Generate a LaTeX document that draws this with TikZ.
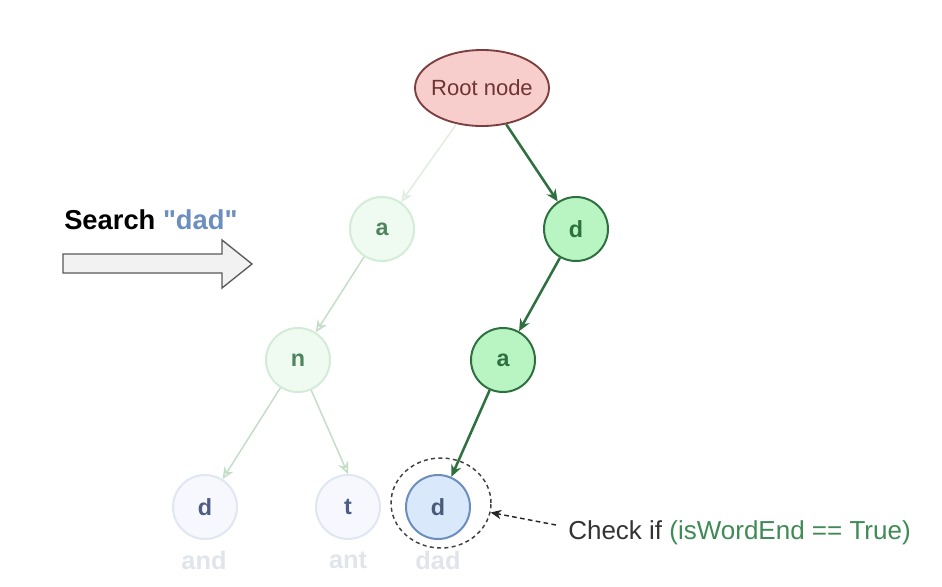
\documentclass[tikz,border=0pt]{standalone}
\usepackage{fontspec}
\setmainfont{Liberation Sans}
\newfontfamily\qfont{Liberation Sans}[Ligatures=ResetAll]
\usetikzlibrary{arrows.meta,shapes.geometric}
\definecolor{dkgreen}{HTML}{2F7040}
\definecolor{ltgreen}{HTML}{B9F5C3}
\definecolor{fgfill}{HTML}{EFFBF1}
\definecolor{fgdraw}{HTML}{D3ECD7}
\definecolor{fgedge}{HTML}{C3DDC7}
\definecolor{fgedgel}{HTML}{DDEEDF}
\definecolor{fbfill}{HTML}{F6F8FD}
\definecolor{fbdraw}{HTML}{E1E6F3}
\definecolor{fbtext}{HTML}{4D5D85}
\definecolor{bfill}{HTML}{DAE8FC}
\definecolor{bdraw}{HTML}{6C8EBF}
\definecolor{btext}{HTML}{4A5A7A}
\definecolor{lbl}{HTML}{E2E4EC}
\definecolor{rfill}{HTML}{F8CECC}
\definecolor{rdraw}{HTML}{7D3E3E}
\definecolor{rtext}{HTML}{6E3434}
\definecolor{chkgreen}{HTML}{3F8A55}
\tikzset{
  trienode/.style={circle, minimum size=48pt, inner sep=0pt, line width=1.5pt, font=\bfseries\fontsize{17.5}{20}\selectfont},
  onpath/.style={trienode, draw=dkgreen, fill=ltgreen, text=dkgreen},
  fadegreen/.style={trienode, draw=fgdraw, fill=fgfill, text=dkgreen!85},
  fadeblue/.style={trienode, draw=fbdraw, fill=fbfill, text=fbtext},
  found/.style={trienode, draw=bdraw, fill=bfill, text=btext},
  wordlbl/.style={text=lbl, font=\bfseries\fontsize{19}{21}\selectfont, inner sep=0pt},
  pathedge/.style={draw=dkgreen, line width=1.9pt, -{Stealth[length=9pt,width=8pt]}},
  fadeedge/.style={draw=fgedge, line width=1.1pt, -{Stealth[length=9pt,width=8pt,open,fill=fgfill]}},
}
\begin{document}
\begin{tikzpicture}[x=0.75pt,y=-0.75pt]
\useasboundingbox (0,0) rectangle (942,586);
% nodes
\node[ellipse, draw=rdraw, fill=rfill, line width=1.4pt, inner sep=0pt, minimum width=100.5pt, minimum height=57pt, text=rtext, font=\fontsize{16.5}{19}\selectfont] (root) at (482,88) {\makebox[0pt]{Root node}};
\node[fadegreen] (a1) at (382,229) {a};
\node[onpath] (d1) at (576,229) {d};
\node[fadegreen] (n) at (298,360) {n};
\node[onpath] (a2) at (503,360) {a};
\node[fadeblue] (d2) at (205,507) {d};
\node[fadeblue] (t) at (348,507) {t};
\node[found] (d3) at (438,507) {d};
\node[ellipse, draw=black!75, line width=1.1pt, minimum width=75pt, minimum height=67.5pt, dash pattern=on 3pt off 2.5pt] (ring) at (441,503) {};
% word labels
\node[wordlbl] (l1) at (204,560) {and};
\node[wordlbl] (l2) at (348,560) {ant};
\node[wordlbl] (l3) at (438,560) {dad};
% search
\node[anchor=west, inner sep=0pt, font=\bfseries\fontsize{20.5}{23}\selectfont] (search) at (64,220) {Search \textcolor{bdraw}{\qfont\bfseries "dad"}};
\draw[draw=black!65, fill=black!5, line width=1pt] (63,254) -- (222,254) -- (222,240) -- (252,264) -- (222,288) -- (222,273) -- (63,273) -- cycle;
% check text
\node[anchor=west, inner sep=0pt, text=black!80, font=\fontsize{19.5}{22}\selectfont] (chk) at (568,533) {Check if \textcolor{chkgreen}{(isWordEnd == True)}};
\coordinate (chkstart) at (556,525);
% edges
\draw[fadeedge, draw=fgedgel] (root) -- (a1);
\draw[pathedge] (root) -- (d1);
\draw[fadeedge] (a1) -- (n);
\draw[pathedge] (d1) -- (a2);
\draw[fadeedge] (n) -- (d2);
\draw[fadeedge] (n) -- (t.north);
\draw[pathedge] (a2) -- (d3);
\draw[black!85, line width=1.1pt, dash pattern=on 3.5pt off 2.5pt, -{Stealth[length=8pt,width=7pt]}] (chkstart) -- (ring);
\end{tikzpicture}
\end{document}
